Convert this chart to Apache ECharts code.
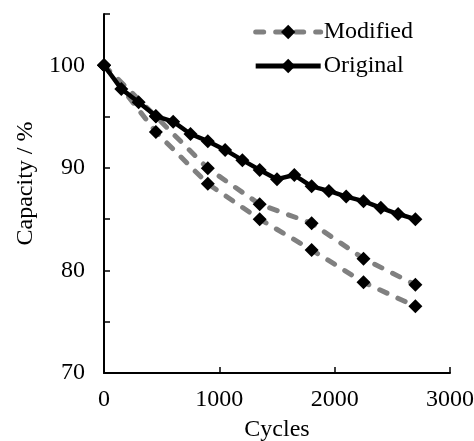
<!DOCTYPE html>
<html><head><meta charset="utf-8">
<script src="https://cdn.jsdelivr.net/npm/echarts@6/dist/echarts.min.js"></script>
<style>html,body{margin:0;padding:0;background:#fff}#c{width:474px;height:441px}</style>
</head><body><div id="c"></div>
<script>
const originalCycles = [0,150,300,450,600,750,900,1050,1200,1350,1500,1650,1800,1950,2100,2250,2400,2550,2700];
const originalValues = [100,97.7,96.4,95.05,94.5,93.3,92.6,91.75,90.75,89.8,88.9,89.3,88.2,87.75,87.2,86.75,86.1,85.5,85.0];
const modifiedCycles = [0,450,900,1350,1800,2250,2700];
const modifiedAValues = [100,95.0,89.95,86.45,84.6,81.15,78.6];
const modifiedBValues = [100,93.5,88.45,85.0,82.0,78.85,76.5];
const xTicks = [0,1000,2000,3000];
const yLabels = [70,80,90,100];

const font = 'Liberation Serif';
const fs = 24;
const zip = (xs, ys) => xs.map((x,i)=>[x, ys[i]]);
const chart = echarts.init(document.getElementById('c'));
const modLine = {color:'#808080', width:5, type:[8,12], cap:'round'};
const modStyle = {
  type:'line', name:'Modified', symbol:'diamond', symbolSize:14,
  itemStyle:{color:'#000'}, lineStyle:modLine, z:2
};
chart.setOption({
  animation:false,
  grid:{left:104, right:24, top:14, bottom:68, outerBoundsMode:'none', containLabel:false},
  legend:{
    data:[
      {name:'Modified', lineStyle:{width:5, type:[8,12], cap:'round', color:'#808080'}},
      {name:'Original', lineStyle:{width:5, color:'#000'}}
    ],
    orient:'vertical', right:56, top:15,
    itemWidth:65, itemHeight:18, itemGap:10,
    textStyle:{fontFamily:font, fontSize:fs, color:'#000', padding:[0,0,0,-2]}
  },
  xAxis:{
    type:'value', min:0, max:3000, interval:1000,
    name:'Cycles', nameLocation:'middle', nameGap:45,
    nameTextStyle:{fontFamily:font, fontSize:fs, color:'#000'},
    axisLine:{lineStyle:{color:'#000', width:2}},
    axisTick:{inside:true, length:6, lineStyle:{color:'#000', width:1.5}},
    axisLabel:{fontFamily:font, fontSize:fs, color:'#000', margin:15,
      formatter: v => xTicks.includes(v) ? String(v) : ''},
    splitLine:{show:false}
  },
  yAxis:{
    type:'value', min:70, max:105, interval:5,
    name:'Capacity / %', nameLocation:'middle', nameGap:65,
    nameTextStyle:{fontFamily:font, fontSize:fs, color:'#000', padding:[0,0,0,20]},
    axisLine:{show:true, lineStyle:{color:'#000', width:2}},
    axisTick:{inside:true, length:6, lineStyle:{color:'#000', width:1.5}},
    axisLabel:{fontFamily:font, fontSize:fs, color:'#000', margin:19,
      formatter: v => yLabels.includes(v) ? String(v) : ''},
    splitLine:{show:false}
  },
  series:[
    Object.assign({data:zip(modifiedCycles, modifiedAValues)}, modStyle),
    Object.assign({data:zip(modifiedCycles, modifiedBValues)}, modStyle),
    {type:'line', name:'Original', symbol:'diamond', symbolSize:14,
     data:zip(originalCycles, originalValues),
     itemStyle:{color:'#000'}, lineStyle:{color:'#000', width:4.5}, z:3}
  ]
});
</script></body></html>
